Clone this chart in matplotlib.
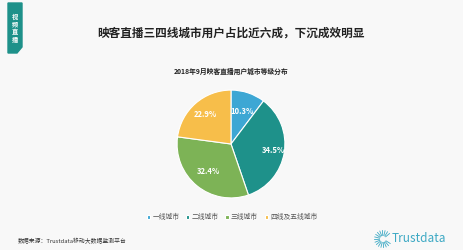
import numpy as np
import matplotlib.pyplot as plt
from matplotlib.patches import Polygon

plt.rcParams['font.family'] = ['Noto Sans CJK SC', 'DejaVu Sans']

labels = ['一线城市', '二线城市', '三线城市', '四线及五线城市']
shares = [10.3, 34.5, 32.4, 22.9]
colors = ['#3DA7D4', '#1E918A', '#7DB356', '#F7BE4A']
label_dist = [0.64, 0.8, 0.66, 0.72]

W, H = 463, 250
fig = plt.figure(figsize=(W / 100, H / 100), dpi=100)
fig.patch.set_facecolor('#F8F8F8')

# side tab
tab = Polygon([(8 / W, 1 - 3 / H), (22 / W, 1 - 3 / H), (22 / W, 1 - 47 / H),
               (17 / W, 1 - 53 / H), (8 / W, 1 - 53 / H)],
              closed=True, transform=fig.transFigure, color='#1E918A')
fig.patches.append(tab)
fig.text(15 / W, 1 - 28 / H, '视\n频\n直\n播', color='white', fontsize=4.5,
         ha='center', va='center', fontweight='bold', linespacing=1.1)

fig.text(231 / W, 1 - 33 / H, '映客直播三四线城市用户占比近六成，下沉成效明显',
         fontsize=8.4, fontweight='bold', ha='center', va='center', color='#222222')
fig.text(231 / W, 1 - 71 / H, '2018年9月映客直播用户城市等级分布',
         fontsize=4.9, fontweight='bold', ha='center', va='center', color='#222222')

ax = fig.add_axes([(231 - 55) / W, 1 - (144 + 55) / H, 110 / W, 110 / H])
wedges, texts, autotexts = ax.pie(
    shares, colors=colors, startangle=90, counterclock=False,
    autopct='%.1f%%', pctdistance=0.65,
    wedgeprops=dict(edgecolor='white', linewidth=0.8),
    textprops=dict(color='white', fontsize=5.5, fontweight='bold'))
for t, d in zip(autotexts, label_dist):
    x, y = t.get_position()
    t.set_position((x / 0.65 * d, y / 0.65 * d))
ax.set_aspect('equal')
ax.set_xlim(-1.02, 1.02)
ax.set_ylim(-1.02, 1.02)

fig.legend(wedges, labels, loc='center', bbox_to_anchor=(232 / W, 1 - 217 / H),
           ncol=4, frameon=False, fontsize=4.9, handlelength=0.5, handleheight=0.5,
           handletextpad=0.3, columnspacing=1.0, labelcolor='#555555')

fig.text(18 / W, 1 - 241 / H, '数据来源：Trustdata移动大数据监测平台',
         fontsize=4.2, ha='left', va='center', color='#333333')

# logo
lax = fig.add_axes([372 / W, 1 - 250 / H, 22 / W, 22 / H])
lax.set_xlim(-11, 11)
lax.set_ylim(-11, 11)
lax.axis('off')
for a in np.radians(np.arange(40, 330, 18)):
    lax.plot([3.5 * np.cos(a), 8.5 * np.cos(a)], [3.5 * np.sin(a), 8.5 * np.sin(a)],
             color='#3DA9C4', lw=0.6)
fig.text(392 / W, 1 - 239 / H, 'Trustdata', fontsize=8.5, ha='left', va='center',
         color='#3DA9C4')

fig.savefig('out.png', dpi=100, facecolor=fig.get_facecolor())
